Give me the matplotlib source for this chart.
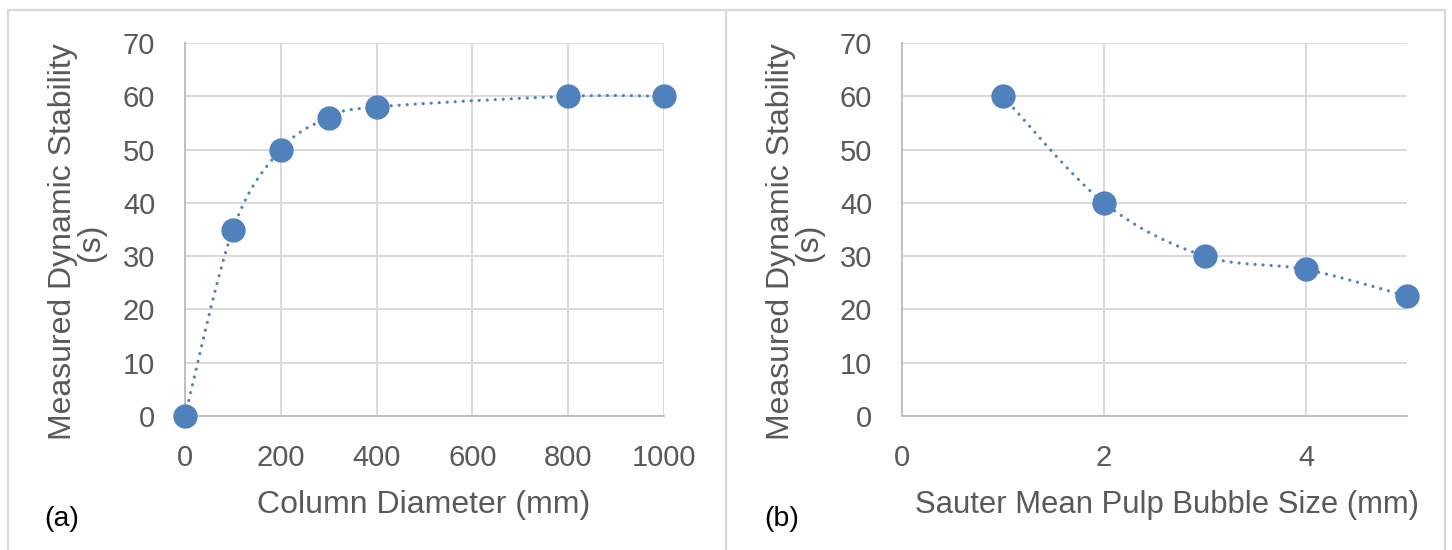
import numpy as np
import matplotlib
matplotlib.use("Agg")
import matplotlib.pyplot as plt
from matplotlib.lines import Line2D

plt.rcParams['font.family'] = ['Liberation Sans', 'DejaVu Sans']

# ---- data ----
diam_mm = [0, 100, 200, 300, 400, 800, 1000]
stab_a = [0, 35, 50, 56, 58, 60, 60]
bubble_mm = [1, 2, 3, 4, 5]
stab_b = [60, 40, 30, 27.5, 22.5]
xticks_a = [0, 200, 400, 600, 800, 1000]
xticks_b = [0, 2, 4]
yticks = [0, 10, 20, 30, 40, 50, 60, 70]
xlabel_a = "Column Diameter (mm)"
xlabel_b = "Sauter Mean Pulp Bubble Size (mm)"
ylabel = "Measured Dynamic Stability\n(s)"

W, H = 1452, 550
BLUE = "#4F81BD"
GRID = "#D9D9D9"
TXT = "#595959"


def smooth(x, y, sx, sy, n=60):
    """Catmull-Rom style Bezier smoothing (like Excel smoothed lines), computed in pixel space."""
    P = np.column_stack([np.asarray(x, float) * sx, np.asarray(y, float) * sy])
    out = []
    for i in range(len(P) - 1):
        p0 = P[i - 1] if i > 0 else P[i]
        p1 = P[i]
        p2 = P[i + 1]
        p3 = P[i + 2] if i + 2 < len(P) else P[i + 1]
        c1 = p1 + (p2 - p0) / 6.0
        c2 = p2 - (p3 - p1) / 6.0
        t = np.linspace(0, 1, n)[:, None]
        seg = ((1 - t) ** 3) * p1 + 3 * ((1 - t) ** 2) * t * c1 + 3 * (1 - t) * t ** 2 * c2 + t ** 3 * p2
        out.append(seg if i == 0 else seg[1:])
    out = np.vstack(out)
    return out[:, 0] / sx, out[:, 1] / sy


fig = plt.figure(figsize=(W / 100, H / 100), dpi=100)


def px2fig(x, y):
    return x / W, 1 - y / H


def make_ax(x0, x1, y0, y1, xlim, xticks):
    ax = fig.add_axes([x0 / W, 1 - y1 / H, (x1 - x0) / W, (y1 - y0) / H])
    ax.set_xlim(*xlim)
    ax.set_ylim(0, 70)
    ax.set_xticks(xticks)
    ax.set_yticks(yticks)
    ax.tick_params(length=0, labelsize=21, colors=TXT)
    ax.tick_params(axis='x', pad=20)
    ax.tick_params(axis='y', pad=21.5)
    ax.grid(True, color=GRID, lw=1.4)
    ax.set_axisbelow(True)
    for s in ['top', 'right']:
        ax.spines[s].set_visible(False)
    for s in ['left', 'bottom']:
        ax.spines[s].set_color("#BFBFBF")
        ax.spines[s].set_linewidth(1.4)
    return ax


line_kw = dict(color=BLUE, lw=2.3, dashes=[0.01, 2.5], dash_capstyle='round', zorder=2, clip_on=False)
mark_kw = dict(color=BLUE, ms=16.5, mec=BLUE, zorder=3, clip_on=False, linestyle='none', marker='o')

# Left panel
axA = make_ax(185, 664, 43, 416, (0, 1000), xticks_a)
xs, ys = smooth(diam_mm, stab_a, 479 / 1000, 373 / 70)
axA.plot(xs, ys, **line_kw)
axA.plot(diam_mm, stab_a, **mark_kw)

# Right panel
axB = make_ax(902, 1407, 43, 416, (0, 5), xticks_b)
xs, ys = smooth(bubble_mm, stab_b, 505 / 5, 373 / 70)
axB.plot(xs, ys, **line_kw)
axB.plot(bubble_mm, stab_b, **mark_kw)

# Axis labels
fig.text(*px2fig(424, 505), xlabel_a, fontsize=23, color=TXT, ha='center', va='center')
fig.text(*px2fig(1167, 505), xlabel_b, fontsize=22.3, color=TXT, ha='center', va='center')
fig.text(*px2fig(77, 242), ylabel, fontsize=23, color=TXT, ha='center', va='center',
         rotation=90, multialignment='center', linespacing=0.95)
fig.text(*px2fig(795, 242), ylabel, fontsize=23, color=TXT, ha='center', va='center',
         rotation=90, multialignment='center', linespacing=0.95)

# Panel letters
fig.text(*px2fig(62, 519), "(a)", fontsize=20.5, color="black", ha='center', va='center')
fig.text(*px2fig(782, 519), "(b)", fontsize=20.5, color="black", ha='center', va='center')

# Frames
frame_kw = dict(color=GRID, lw=1.6, transform=fig.transFigure)
for (xa, ya, xb, yb) in [(8, 10, 1445, 10), (8, 10, 8, 550), (726, 10, 726, 550), (1445, 10, 1445, 550)]:
    p0 = px2fig(xa, ya)
    p1 = px2fig(xb, yb)
    fig.add_artist(Line2D([p0[0], p1[0]], [p0[1], p1[1]], **frame_kw))

fig.savefig("out.png", dpi=100)
